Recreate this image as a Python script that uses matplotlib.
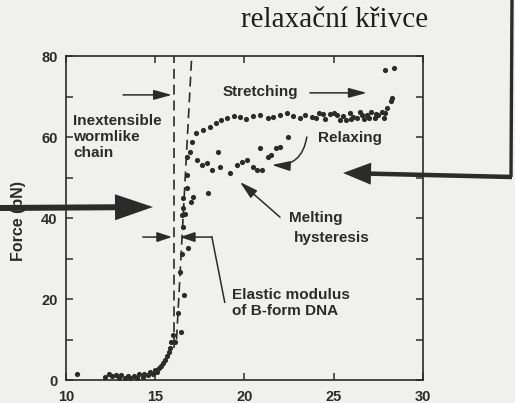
import matplotlib
matplotlib.use("Agg")
import matplotlib.pyplot as plt
from matplotlib.patches import FancyArrow
from matplotlib.ticker import MultipleLocator

INK = "#2b2b2b"
PAPER = "#f0f0ee"

# stretching branch: extension vs force (pN)
stretch_x = [10.6, 12.2, 12.4, 12.6, 12.8, 13.0, 13.1, 13.3, 13.5, 13.6, 13.8, 14.0,
             14.1, 14.3, 14.4, 14.6, 14.7, 14.9, 15.0, 15.1, 15.2, 15.35, 15.45,
             15.55, 15.65, 15.75, 15.85, 15.9, 16.0, 16.1, 16.3, 16.45, 16.6, 16.4,
             16.5, 16.55, 16.7, 16.85, 17.04, 17.3, 17.7, 18.07, 18.4, 18.7, 19.0,
             19.4, 19.75, 20.1, 20.5, 20.9, 21.3, 21.6, 22.0, 22.4, 22.7, 23.1,
             23.4, 23.8, 24.0, 24.2, 24.4, 24.5, 24.8, 25.0, 25.2, 25.35, 25.5,
             25.7, 25.9, 26.0, 26.1, 26.3, 26.5, 26.6, 26.7, 26.9, 27.0, 27.1,
             27.3, 27.4, 27.5, 27.7, 27.8, 27.9, 28.0, 28.2, 28.3, 27.9, 28.4]
stretch_f = [1.5, 0.8, 1.5, 1.0, 1.3, 0.6, 1.2, 0.5, 1.0, 0.4, 1.1, 0.6,
             1.4, 0.8, 1.6, 1.2, 2.0, 1.5, 2.5, 2.0, 3.0, 3.5, 4.2,
             5.0, 6.0, 7.0, 8.0, 9.5, 11.0, 9.4, 16.5, 11.9, 21.0, 26.7,
             31.0, 37.8, 41.0, 32.6, 58.8, 61.0, 61.7, 62.5, 63.5, 64.2, 64.7,
             65.2, 65.0, 64.5, 65.3, 65.4, 64.8, 65.0, 65.5, 66.0, 65.2, 64.7,
             65.4, 65.0, 64.8, 66.0, 65.6, 64.5, 65.8, 66.0, 65.5, 64.2, 65.2,
             64.3, 66.0, 64.4, 65.0, 64.8, 66.2, 65.5, 64.5, 65.5, 64.8, 66.2,
             64.6, 65.8, 65.4, 66.2, 64.8, 66.0, 67.2, 69.0, 69.6, 76.5, 77.0]

# relaxing branch
relax_x = [22.44, 21.98, 21.8, 21.5, 21.3, 21.0, 20.87, 20.68, 20.48, 20.12,
           19.84, 19.56, 19.2, 18.62, 18.53, 18.16, 17.9, 17.6, 17.32, 16.95,
           16.76, 16.76, 16.76, 17.96, 17.12, 17.0, 16.55, 16.55, 16.5]
relax_f = [60.0, 57.6, 57.2, 55.5, 55.1, 51.9, 57.2, 51.9, 52.7, 54.3,
           53.9, 53.0, 51.1, 52.7, 56.4, 51.9, 53.5, 53.0, 54.3, 56.4,
           55.1, 50.6, 47.4, 46.1, 45.3, 44.0, 45.0, 42.5, 40.7]

# fits: inextensible WLC asymptote and B-form elastic line
wlc_x = [16.05, 16.05]
wlc_f = [8, 80]
elastic_x = [16.2, 17.05]
elastic_f = [10, 80]

plt.rcParams["font.family"] = ["Liberation Sans", "DejaVu Sans"]

fig = plt.figure(figsize=(5.15, 4.03), dpi=100, facecolor=PAPER)
ax = fig.add_axes([0.128, 0.057, 0.693, 0.804], facecolor=PAPER)

ax.scatter(stretch_x, stretch_f, s=14, color=INK, lw=0, zorder=3)
ax.scatter(relax_x, relax_f, s=14, color=INK, lw=0, zorder=3)
ax.plot(wlc_x, wlc_f, color=INK, lw=1.2, dashes=(6, 3.5))
ax.plot(elastic_x, elastic_f, color=INK, lw=1.2, dashes=(6, 3.5))

ax.set_xlim(10, 30)
ax.set_ylim(0, 80)
ax.set_xticks([10, 15, 20, 25, 30])
ax.set_yticks([0, 20, 40, 60, 80])
ax.yaxis.set_minor_locator(MultipleLocator(10))
ax.tick_params(which="both", direction="in", length=5, width=1.1, color=INK,
               top=True, right=True)
ax.tick_params(axis="x", pad=7)
ax.tick_params(axis="y", pad=6)
for lab in ax.get_xticklabels() + ax.get_yticklabels():
    lab.set_fontweight("bold")
    lab.set_fontsize(10.5)
    lab.set_color(INK)
for sp in ax.spines.values():
    sp.set_linewidth(1.2)
    sp.set_color(INK)

ax.set_ylabel("Force (pN)", fontweight="bold", fontsize=11.5, color=INK)
ax.yaxis.set_label_coords(-0.112, 0.49)

txt = dict(fontsize=11, fontweight="bold", color=INK, va="center", ha="left")
arr = dict(arrowstyle="-|>,head_length=1.1,head_width=0.3", color=INK, lw=1.1,
           mutation_scale=10, shrinkA=0, shrinkB=0)

ax.text(10.4, 60, "Inextensible\nwormlike\nchain", **txt)
ax.annotate("", xy=(15.94, 70.4), xytext=(13.2, 70.4), arrowprops=arr)

ax.text(18.8, 71.1, "Stretching", **txt)
ax.annotate("", xy=(26.86, 70.9), xytext=(23.67, 70.9), arrowprops=arr)

ax.text(24.1, 59.8, "Relaxing", **txt)
ax.annotate("", xy=(21.54, 53.1), xytext=(23.5, 60.0),
            arrowprops=dict(arr, connectionstyle="arc3,rad=-0.45"))

ax.text(22.5, 40.0, "Melting", **txt)
ax.text(22.8, 35.0, "hysteresis", **txt)
ax.annotate("", xy=(19.75, 48.9), xytext=(22.0, 40.2), arrowprops=arr)

ax.text(19.3, 19.0, "Elastic modulus\nof B-form DNA", **txt)
short = dict(arr, arrowstyle="-|>,head_length=0.9,head_width=0.3")
ax.annotate("", xy=(15.94, 35.3), xytext=(14.31, 35.3), arrowprops=short)
ax.annotate("", xy=(16.39, 35.3), xytext=(18.18, 35.3), arrowprops=short)
ax.plot([18.18, 18.9], [35.3, 19.2], color=INK, lw=1.1)

# hand-drawn marks over the figure, in pixel units
ov = fig.add_axes([0, 0, 1, 1], zorder=5)
ov.set_xlim(0, 515)
ov.set_ylim(403, 0)
ov.axis("off")
ov.patch.set_alpha(0)

ov.add_patch(FancyArrow(0, 208, 153, -1, width=6, head_width=26, head_length=38,
                        length_includes_head=True, color=INK, lw=0))
ov.plot([512, 511], [0, 177], color=INK, lw=2.4, solid_capstyle="butt")
ov.add_patch(FancyArrow(512, 177, -169, -4, width=4.5, head_width=22, head_length=28,
                        length_includes_head=True, color=INK, lw=0))
ov.text(335, 20, "relaxační křivce", fontsize=21, family="Liberation Serif",
        color="#1e1e1e", ha="center", va="center")

fig.savefig("out.png", dpi=100, facecolor=PAPER)
